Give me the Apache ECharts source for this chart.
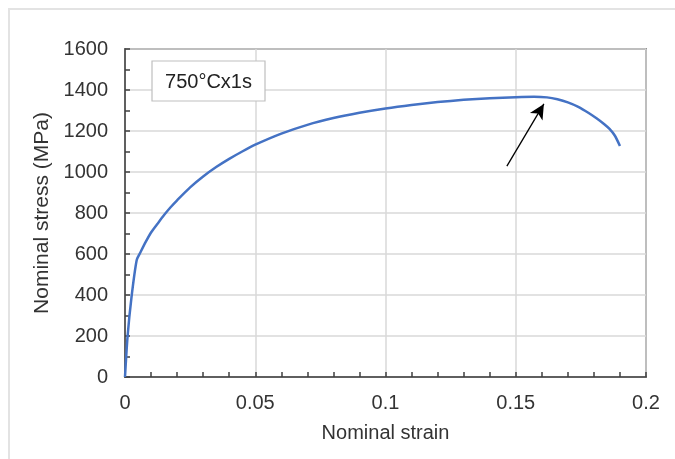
<!DOCTYPE html>
<html>
<head>
<meta charset="utf-8">
<script src="https://cdn.jsdelivr.net/npm/echarts@6/dist/echarts.min.js"></script>
<style>html,body{margin:0;padding:0;background:#fff;}#c{width:675px;height:459px;}</style>
</head>
<body>
<div id="c"></div>
<script>
const strain = [0, 0.001, 0.0025, 0.0045, 0.006, 0.008, 0.010, 0.0125, 0.015, 0.0175, 0.020, 0.025, 0.030, 0.035, 0.040, 0.045, 0.050, 0.060, 0.070, 0.080, 0.090, 0.100, 0.110, 0.120, 0.130, 0.140, 0.150, 0.157, 0.162, 0.166, 0.170, 0.174, 0.178, 0.181, 0.184, 0.186, 0.188, 0.190];
const stress = [0, 200, 390, 571, 610, 660, 705, 748, 790, 828, 862, 925, 978, 1024, 1064, 1100, 1133, 1187, 1230, 1263, 1289, 1310, 1327, 1341, 1352, 1360, 1365, 1367, 1364, 1355, 1340, 1318, 1288, 1262, 1233, 1210, 1178, 1127];
const xTickLabels = {0: '0', 0.05: '0.05', 0.1: '0.1', 0.15: '0.15', 0.2: '0.2'};
const arrowFrom = [0.1466, 1029];
const arrowTo = [0.1608, 1332];
const annotationText = '750°Cx1s';
const xName = 'Nominal strain';
const yName = 'Nominal stress (MPa)';

const chart = echarts.init(document.getElementById('c'), null, {renderer: 'canvas'});
const font = 'Liberation Sans, Arial, sans-serif';
chart.setOption({
  animation: false,
  backgroundColor: '#fff',
  grid: {left: 125, right: 29, top: 49, bottom: 82, show: true, borderColor: '#404040', borderWidth: 1.5, backgroundColor: 'transparent'},
  xAxis: {
    type: 'value', min: 0, max: 0.2, interval: 0.05,
    name: xName, nameLocation: 'middle', nameGap: 46,
    nameTextStyle: {fontFamily: font, fontSize: 20, color: '#333'},
    axisLine: {show: true, onZero: false, lineStyle: {color: '#404040', width: 1.5}},
    axisTick: {show: true, inside: true, length: 5, lineStyle: {color: '#404040', width: 1.5}},
    minorTick: {show: true, splitNumber: 5, length: 5, lineStyle: {color: '#404040', width: 1.5}},
    axisLabel: {fontFamily: font, fontSize: 20, color: '#333', margin: 16,
      formatter: v => { const k = Math.round(v * 100) / 100; return xTickLabels[k] !== undefined ? xTickLabels[k] : String(k); }},
    splitLine: {show: true, lineStyle: {color: '#d9d9d9', width: 1.5}}
  },
  yAxis: {
    type: 'value', min: 0, max: 1600, interval: 200,
    name: yName, nameLocation: 'middle', nameGap: 71,
    nameTextStyle: {fontFamily: font, fontSize: 21, color: '#333'},
    axisLine: {show: true, onZero: false, lineStyle: {color: '#404040', width: 1.5}},
    axisTick: {show: true, inside: true, length: 5, lineStyle: {color: '#404040', width: 1.5}},
    minorTick: {show: true, splitNumber: 2, length: 5, lineStyle: {color: '#404040', width: 1.5}},
    axisLabel: {fontFamily: font, fontSize: 20, color: '#333', margin: 17, formatter: v => String(v)},
    splitLine: {show: true, lineStyle: {color: '#d9d9d9', width: 1.5}}
  },
  series: [{
    type: 'line',
    data: strain.map((s, i) => [s, stress[i]]),
    showSymbol: false, smooth: 0.25,
    lineStyle: {color: '#4472C4', width: 2.5},
    markLine: {
      silent: true, symbol: ['none', 'arrow'], symbolSize: [11, 15],
      label: {show: false},
      lineStyle: {color: '#000', width: 1.3, type: 'solid'},
      data: [[{coord: arrowFrom}, {coord: arrowTo}]]
    }
  }],
  graphic: [
    {type: 'rect', shape: {x: 9, y: 9, width: 720, height: 520}, style: {fill: 'none', stroke: '#e3e3e3', lineWidth: 2}, silent: true, z: -1},
    {type: 'rect', shape: {x: 152, y: 61, width: 113, height: 40}, style: {fill: '#fff', stroke: '#bfbfbf', lineWidth: 1.2}, z: 10},
    {type: 'text', x: 208.5, y: 82, style: {text: annotationText, font: '20px ' + font, fill: '#222', align: 'center', verticalAlign: 'middle'}, z: 11}
  ]
});
</script>
</body>
</html>
